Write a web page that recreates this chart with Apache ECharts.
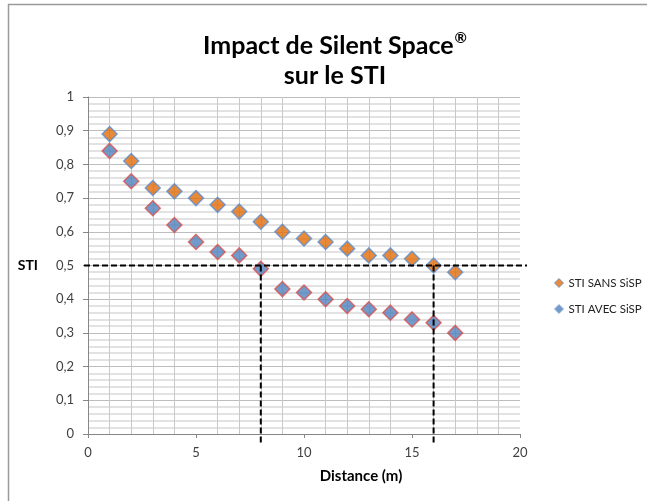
<!DOCTYPE html>
<html><head><meta charset="utf-8">
<script src="https://cdn.jsdelivr.net/npm/echarts@6/dist/echarts.min.js"></script>
<style>html,body{margin:0;padding:0;background:#fff}#c{width:647px;height:501px}</style>
</head><body><div id="c"></div>
<script>
const distances = [1,2,3,4,5,6,7,8,9,10,11,12,13,14,15,16,17];
const stiSans = [0.89,0.81,0.73,0.72,0.70,0.68,0.66,0.63,0.60,0.58,0.57,0.55,0.53,0.53,0.52,0.50,0.48];
const stiAvec = [0.84,0.75,0.67,0.62,0.57,0.54,0.53,0.49,0.43,0.42,0.40,0.38,0.37,0.36,0.34,0.33,0.30];
const seriesNames = ['STI SANS SiSP','STI AVEC SiSP'];
const refSTI = 0.5;
const refDistances = [8,16];

const font = 'Lato, "Open Sans", sans-serif';
const chart = echarts.init(document.getElementById('c'));
const pair = (xs, ys) => xs.map((x,i)=>[x, ys[i]]);
const fmt = v => String(Math.round(v*10)/10).replace('.', ',');
const styleSans = {color:'#e36c09', borderColor:'#5b8fd0', borderWidth:1.5};
const styleAvec = {color:'#4f81bd', borderColor:'#d9534f', borderWidth:1.5};

chart.setOption({
  animation:false,
  title:{text:'{t|Impact de Silent Space}{r|®}\n{t|sur le STI}', left:330, top:26, textAlign:'center',
    textStyle:{fontFamily:font, fontSize:25, fontWeight:'bold', color:'#000', lineHeight:30,
      rich:{t:{fontFamily:font, fontSize:25, fontWeight:'bold', color:'#000', lineHeight:30},
            r:{fontFamily:font, fontSize:15, fontWeight:'bold', color:'#000', lineHeight:30, verticalAlign:'top', padding:[0,0,8,1]}}}},
  grid:{left:88, right:127, top:97, bottom:67},
  legend:{orient:'vertical', left:549, top:272, itemWidth:9, itemHeight:9, itemGap:14,
    textStyle:{fontFamily:font, fontSize:11.5, color:'#222'}, icon:'diamond',
    data:[{name:seriesNames[0], itemStyle:{color:'#e36c09', borderColor:'#5b8fd0', borderWidth:1}},
          {name:seriesNames[1], itemStyle:{color:'#4f81bd', borderColor:'#8fa9d6', borderWidth:1}}]},
  xAxis:{type:'value', min:0, max:20, interval:5,
    name:'Distance (m)', nameLocation:'middle', nameGap:35,
    nameTextStyle:{fontFamily:font, fontSize:15, fontWeight:'bold', color:'#000', padding:[0,0,0,114]},
    axisLine:{lineStyle:{color:'#868686'}}, axisTick:{show:true, length:4, lineStyle:{color:'#868686'}},
    axisLabel:{fontFamily:font, fontSize:13, color:'#404040', margin:12},
    splitLine:{show:false},
    minorTick:{show:false, splitNumber:5},
    minorSplitLine:{show:true, lineStyle:{color:'#c8c8c8', width:1}}},
  yAxis:{type:'value', min:0, max:1, interval:0.1,
    name:'STI', nameLocation:'middle', nameRotate:0, nameGap:50,
    nameTextStyle:{fontFamily:font, fontSize:14, fontWeight:'bold', color:'#000'},
    axisLine:{show:true, lineStyle:{color:'#868686'}}, axisTick:{show:true, length:5, lineStyle:{color:'#868686'}},
    axisLabel:{fontFamily:font, fontSize:13, color:'#404040', margin:14, formatter:fmt},
    splitLine:{show:true, lineStyle:{color:'#bdbdbd', width:1}},
    minorTick:{show:false, splitNumber:5},
    minorSplitLine:{show:true, lineStyle:{color:'#e2e2e2', width:2}}},
  series:[
    {name:seriesNames[0], type:'scatter', symbol:'diamond', symbolSize:15, data:pair(distances, stiSans), z:4,
      itemStyle:styleSans},
    {name:seriesNames[1], type:'scatter', symbol:'diamond', symbolSize:15, data:pair(distances, stiAvec), z:3,
      itemStyle:styleAvec}
  ]
});

function drawRefs(){
  const p0 = chart.convertToPixel({gridIndex:0}, [0, refSTI]);
  const p20 = chart.convertToPixel({gridIndex:0}, [20, refSTI]);
  const base = chart.convertToPixel({gridIndex:0}, [0, 0]);
  const dash = {stroke:'#000', lineWidth:2, lineDash:[6,3]};
  const els = [
    {type:'line', z:10, shape:{x1:p0[0]-4, y1:p0[1], x2:p20[0]+7, y2:p0[1]}, style:dash},
    {type:'line', z:1, shape:{x1:8.5, y1:4, x2:8.5, y2:501}, style:{stroke:'#9a9a9a', lineWidth:1.5}},
    {type:'line', z:1, shape:{x1:8, y1:4.5, x2:647, y2:4.5}, style:{stroke:'#9a9a9a', lineWidth:1.5}}
  ];
  refDistances.forEach(d=>{
    const p = chart.convertToPixel({gridIndex:0}, [d, refSTI]);
    els.push({type:'line', z:10, shape:{x1:p[0], y1:p[1], x2:p[0], y2:base[1]+11}, style:dash});
  });
  chart.setOption({graphic:els});
}
drawRefs();
</script></body></html>
